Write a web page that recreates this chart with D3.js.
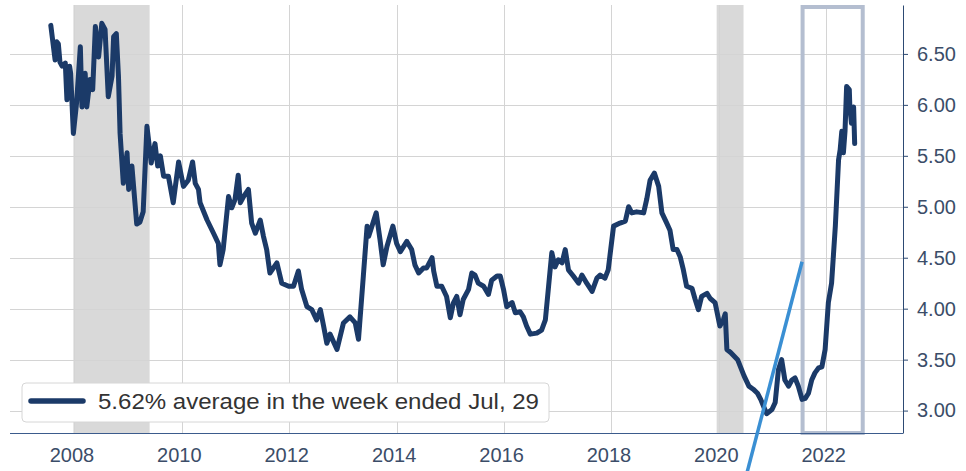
<!DOCTYPE html>
<html>
<head>
<meta charset="utf-8">
<script src="https://cdn.jsdelivr.net/npm/d3@7"></script>
<style>
  body { margin: 0; background: #fff; }
  svg { display: block; font-family: "Liberation Sans", Arial, sans-serif; }
  .grid line { stroke: #d4d4d4; stroke-width: 1; }
  .y-axis path, .y-axis line { stroke: #2d4a73; }
  .y-axis text, .x-axis text { fill: #3b4d68; font-size: 20px; }
  .x-axis path { stroke: #3b5b8c; }
</style>
</head>
<body>
<script>
const width = 966;
const height = 471;

// weekly-ish rate readings (decimal year, %)
const years = [2007.56, 2007.64, 2007.67, 2007.70, 2007.73, 2007.77, 2007.83, 2007.86, 2007.91, 2007.93,
  2007.98, 2008.04, 2008.11, 2008.14, 2008.20, 2008.23, 2008.29, 2008.34, 2008.39, 2008.45,
  2008.51, 2008.57, 2008.63, 2008.70, 2008.73, 2008.78, 2008.82, 2008.85, 2008.91, 2008.98,
  2009.01, 2009.07, 2009.16, 2009.22, 2009.28, 2009.35, 2009.43, 2009.50, 2009.55, 2009.60,
  2009.66, 2009.75, 2009.84, 2009.94, 2010.03, 2010.12, 2010.20, 2010.25, 2010.31, 2010.34,
  2010.47, 2010.59, 2010.68, 2010.71, 2010.77, 2010.87, 2010.93, 2010.99, 2011.05, 2011.09,
  2011.15, 2011.24, 2011.30, 2011.37, 2011.46, 2011.52, 2011.58, 2011.64, 2011.77, 2011.86,
  2011.99, 2012.08, 2012.17, 2012.23, 2012.33, 2012.42, 2012.51, 2012.58, 2012.64, 2012.70,
  2012.76, 2012.89, 2013.01, 2013.13, 2013.23, 2013.29, 2013.38, 2013.45, 2013.48, 2013.54,
  2013.62, 2013.69, 2013.75, 2013.82, 2013.93, 2014.00, 2014.07, 2014.19, 2014.28, 2014.34,
  2014.41, 2014.50, 2014.56, 2014.66, 2014.69, 2014.75, 2014.84, 2014.93, 2015.00, 2015.06,
  2015.12, 2015.18, 2015.24, 2015.34, 2015.40, 2015.46, 2015.52, 2015.62, 2015.71, 2015.77,
  2015.87, 2015.93, 2015.99, 2016.05, 2016.15, 2016.21, 2016.30, 2016.36, 2016.42, 2016.49,
  2016.61, 2016.70, 2016.77, 2016.83, 2016.89, 2016.95, 2017.01, 2017.08, 2017.14, 2017.20,
  2017.29, 2017.39, 2017.45, 2017.54, 2017.64, 2017.73, 2017.79, 2017.88, 2017.94, 2018.04,
  2018.16, 2018.26, 2018.32, 2018.38, 2018.47, 2018.60, 2018.66, 2018.72, 2018.80, 2018.88,
  2018.94, 2019.03, 2019.09, 2019.15, 2019.22, 2019.28, 2019.34, 2019.40, 2019.50, 2019.56,
  2019.62, 2019.68, 2019.78, 2019.84, 2019.93, 2020.02, 2020.09, 2020.12, 2020.15, 2020.22,
  2020.35, 2020.47, 2020.56, 2020.64, 2020.72, 2020.78, 2020.89, 2020.99, 2021.05, 2021.11,
  2021.17, 2021.23, 2021.30, 2021.36, 2021.42, 2021.48, 2021.55, 2021.61, 2021.67, 2021.73,
  2021.79, 2021.86, 2021.92, 2021.98, 2022.04, 2022.10, 2022.17, 2022.23, 2022.26, 2022.29,
  2022.32, 2022.35, 2022.38, 2022.43, 2022.44, 2022.47, 2022.51, 2022.53];
const rates = [6.78, 6.44, 6.62, 6.60, 6.42, 6.38, 6.41, 6.05, 6.38, 6.31,
  5.72, 6.02, 6.57, 5.98, 6.31, 5.98, 6.25, 6.15, 6.77, 6.47,
  6.80, 6.74, 6.08, 6.28, 6.67, 6.70, 6.28, 5.72, 5.23, 5.53,
  5.17, 5.40, 4.83, 4.85, 4.95, 5.79, 5.43, 5.62, 5.40, 5.50,
  5.30, 5.30, 5.04, 5.44, 5.20, 5.26, 5.44, 5.23, 5.17, 5.04,
  4.87, 4.74, 4.64, 4.43, 4.58, 5.10, 4.99, 5.07, 5.31, 5.04,
  5.10, 5.17, 4.84, 4.74, 4.87, 4.71, 4.58, 4.35, 4.45, 4.25,
  4.22, 4.22, 4.37, 4.19, 4.02, 3.99, 3.89, 3.99, 3.83, 3.66,
  3.75, 3.60, 3.86, 3.92, 3.86, 3.70, 4.32, 4.81, 4.71, 4.81,
  4.94, 4.68, 4.43, 4.61, 4.81, 4.64, 4.56, 4.66, 4.58, 4.43,
  4.35, 4.40, 4.40, 4.50, 4.37, 4.22, 4.22, 4.12, 3.91, 4.06,
  4.12, 3.94, 4.09, 4.19, 4.35, 4.33, 4.25, 4.22, 4.14, 4.28,
  4.32, 4.32, 4.19, 4.02, 4.06, 3.96, 3.97, 3.92, 3.83, 3.75,
  3.76, 3.79, 3.89, 4.22, 4.55, 4.41, 4.48, 4.45, 4.58, 4.38,
  4.32, 4.25, 4.33, 4.25, 4.17, 4.30, 4.33, 4.30, 4.38, 4.81,
  4.84, 4.86, 5.00, 4.94, 4.95, 4.94, 5.08, 5.26, 5.33, 5.20,
  4.94, 4.84, 4.77, 4.58, 4.58, 4.51, 4.38, 4.22, 4.20, 4.09,
  3.99, 4.12, 4.15, 4.10, 4.06, 3.83, 3.90, 3.95, 3.60, 3.57,
  3.50, 3.34, 3.24, 3.21, 3.17, 3.11, 2.97, 3.01, 3.08, 3.40,
  3.50, 3.30, 3.24, 3.30, 3.32, 3.24, 3.11, 3.12, 3.17, 3.30,
  3.37, 3.42, 3.43, 3.60, 4.06, 4.25, 4.81, 5.46, 5.56, 5.74,
  5.53, 5.74, 6.18, 6.15, 5.98, 5.82, 5.98, 5.62];

const recessions = [[2007.98, 2009.40], [2019.96, 2020.46]];
const highlight = [2021.56, 2022.68];
const pointer = [[2021.55, 4.46], [2020.50, 2.34]];
const xTicks = [2008, 2010, 2012, 2014, 2016, 2018, 2020, 2022];
const yTicks = [3.0, 3.5, 4.0, 4.5, 5.0, 5.5, 6.0, 6.5];
const legendLabel = "5.62% average in the week ended Jul, 29";

const data = years.map((y, i) => ({ x: y, y: rates[i] }));

const svg = d3.select("body").append("svg")
    .attr("width", width)
    .attr("height", height);

const plotLeft = 10, plotRight = 903, plotTop = 5, plotBottom = 433;

const xScale = d3.scaleLinear()
    .domain([2006.8, 2023.43])
    .range([plotLeft, plotRight]);

const yScale = d3.scaleLinear()
    .domain([2.78, 6.98])
    .range([plotBottom, plotTop]);

// recession shading
svg.append("g")
    .selectAll("rect")
    .data(recessions)
    .enter()
    .append("rect")
    .attr("x", d => xScale(d[0]))
    .attr("y", plotTop)
    .attr("width", d => xScale(d[1]) - xScale(d[0]))
    .attr("height", plotBottom - plotTop)
    .attr("fill", "#d9d9d9");

// grid
const grid = svg.append("g").attr("class", "grid");
grid.selectAll("line.h")
    .data(yTicks)
    .enter()
    .append("line")
    .attr("class", "h")
    .attr("x1", plotLeft)
    .attr("x2", plotRight)
    .attr("y1", d => Math.round(yScale(d)) + 0.5)
    .attr("y2", d => Math.round(yScale(d)) + 0.5);
grid.selectAll("line.v")
    .data(xTicks)
    .enter()
    .append("line")
    .attr("class", "v")
    .attr("x1", d => Math.round(xScale(d)) + 0.5)
    .attr("x2", d => Math.round(xScale(d)) + 0.5)
    .attr("y1", plotTop)
    .attr("y2", plotBottom);

// highlight box
svg.append("rect")
    .attr("x", xScale(highlight[0]))
    .attr("y", plotTop + 2)
    .attr("width", xScale(highlight[1]) - xScale(highlight[0]))
    .attr("height", plotBottom - plotTop - 2)
    .attr("fill", "none")
    .attr("stroke", "#b4bed0")
    .attr("stroke-width", 4);

// axes
const yAxis = d3.axisRight(yScale)
    .tickValues(yTicks)
    .tickFormat(d3.format(".2f"))
    .tickSize(5)
    .tickSizeOuter(0)
    .tickPadding(9);
svg.append("g")
    .attr("class", "y-axis")
    .attr("transform", "translate(" + plotRight + ",0)")
    .call(yAxis)
    .call(g => g.attr("font-family", null).attr("font-size", null));

const xAxis = d3.axisBottom(xScale)
    .tickValues(xTicks)
    .tickFormat(d3.format("d"))
    .tickSize(0)
    .tickPadding(15);
svg.append("g")
    .attr("class", "x-axis")
    .attr("transform", "translate(0," + plotBottom + ")")
    .call(xAxis)
    .call(g => g.attr("font-family", null).attr("font-size", null))
    .call(g => g.select("path").attr("d", "M" + plotLeft + ",0.5H" + plotRight))
    .call(g => g.selectAll("text").attr("dx", "-3"));

// rate line
const line = d3.line()
    .x(d => xScale(d.x))
    .y(d => yScale(d.y));

svg.append("path")
    .datum(data)
    .attr("d", line)
    .attr("fill", "none")
    .attr("stroke", "#1b3a68")
    .attr("stroke-width", 5)
    .attr("stroke-linejoin", "round")
    .attr("stroke-linecap", "round");

// pointer
svg.append("line")
    .attr("x1", xScale(pointer[0][0]))
    .attr("y1", yScale(pointer[0][1]))
    .attr("x2", xScale(pointer[1][0]))
    .attr("y2", yScale(pointer[1][1]))
    .attr("stroke", "#3a8fd3")
    .attr("stroke-width", 3.5);

// legend
const legend = svg.append("g").attr("transform", "translate(22,383)");
legend.append("rect")
    .attr("width", 527)
    .attr("height", 39)
    .attr("rx", 4)
    .attr("fill", "#fff")
    .attr("stroke", "#d6d6d6");
legend.append("line")
    .attr("x1", 9).attr("x2", 61)
    .attr("y1", 18).attr("y2", 18)
    .attr("stroke", "#1b3a68")
    .attr("stroke-width", 5.5)
    .attr("stroke-linecap", "round");
legend.append("text")
    .attr("x", 76)
    .attr("y", 26)
    .attr("fill", "#333")
    .attr("textLength", 441)
    .attr("lengthAdjust", "spacingAndGlyphs")
    .style("font-size", "22px")
    .text(legendLabel);
</script>
</body>
</html>
